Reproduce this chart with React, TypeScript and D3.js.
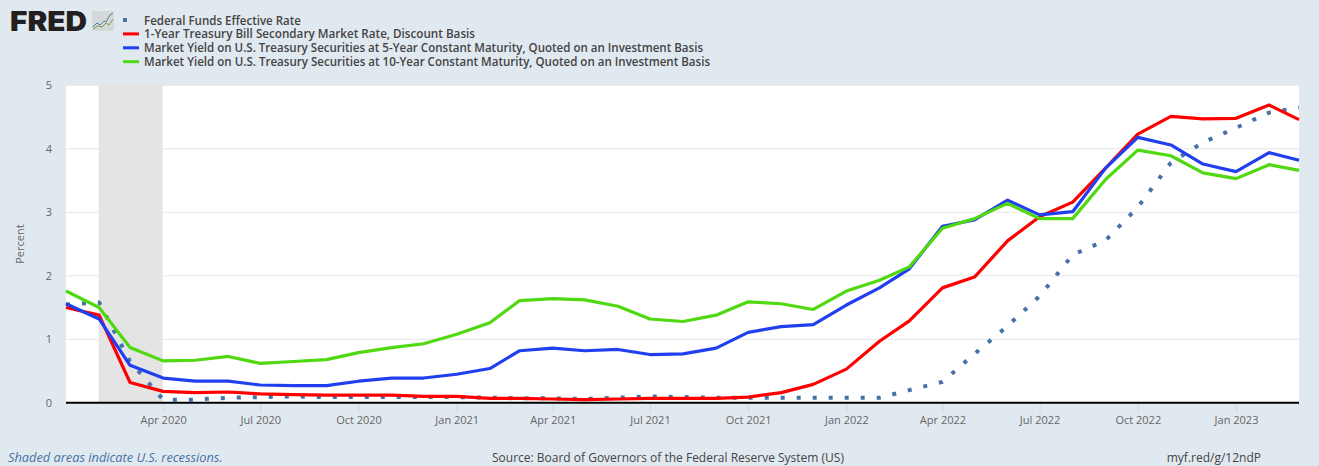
import React, { useEffect, useRef } from "react";
import * as d3 from "d3";

const months: string[] = [
  "2020-01", "2020-02", "2020-03", "2020-04", "2020-05", "2020-06", "2020-07", "2020-08", "2020-09", "2020-10", "2020-11", "2020-12",
  "2021-01", "2021-02", "2021-03", "2021-04", "2021-05", "2021-06", "2021-07", "2021-08", "2021-09", "2021-10", "2021-11", "2021-12",
  "2022-01", "2022-02", "2022-03", "2022-04", "2022-05", "2022-06", "2022-07", "2022-08", "2022-09", "2022-10", "2022-11", "2022-12",
  "2023-01", "2023-02", "2023-03",
];

const fedFunds = [1.55, 1.58, 0.65, 0.05, 0.05, 0.08, 0.09, 0.1, 0.09, 0.09, 0.09, 0.09, 0.09, 0.08, 0.07, 0.07, 0.06, 0.08, 0.1, 0.09, 0.08, 0.08, 0.08, 0.08, 0.08, 0.08, 0.2, 0.33, 0.77, 1.21, 1.68, 2.33, 2.56, 3.08, 3.78, 4.1, 4.33, 4.57, 4.65];
const tbill1y = [1.5, 1.38, 0.32, 0.18, 0.16, 0.17, 0.14, 0.13, 0.12, 0.12, 0.12, 0.1, 0.1, 0.07, 0.07, 0.06, 0.05, 0.06, 0.07, 0.07, 0.07, 0.09, 0.16, 0.29, 0.53, 0.97, 1.29, 1.81, 1.98, 2.55, 2.93, 3.16, 3.7, 4.23, 4.51, 4.47, 4.48, 4.69, 4.46];
const yield5y = [1.56, 1.32, 0.59, 0.39, 0.34, 0.34, 0.28, 0.27, 0.27, 0.34, 0.39, 0.39, 0.45, 0.54, 0.82, 0.86, 0.82, 0.84, 0.76, 0.77, 0.86, 1.11, 1.2, 1.23, 1.54, 1.81, 2.11, 2.78, 2.88, 3.19, 2.96, 3.01, 3.7, 4.18, 4.06, 3.76, 3.64, 3.94, 3.82];
const yield10y = [1.76, 1.5, 0.87, 0.66, 0.67, 0.73, 0.62, 0.65, 0.68, 0.79, 0.87, 0.93, 1.08, 1.26, 1.61, 1.64, 1.62, 1.52, 1.32, 1.28, 1.38, 1.59, 1.56, 1.47, 1.76, 1.93, 2.14, 2.75, 2.9, 3.14, 2.9, 2.9, 3.52, 3.98, 3.89, 3.62, 3.53, 3.75, 3.66];

const legendLabels = [
  "Federal Funds Effective Rate",
  "1-Year Treasury Bill Secondary Market Rate, Discount Basis",
  "Market Yield on U.S. Treasury Securities at 5-Year Constant Maturity, Quoted on an Investment Basis",
  "Market Yield on U.S. Treasury Securities at 10-Year Constant Maturity, Quoted on an Investment Basis",
];
const seriesColors = ["#4572a7", "#ff0000", "#2040f0", "#50d810"];
const yTicks = [0, 1, 2, 3, 4, 5];
const xTicks = ["2020-04", "2020-07", "2020-10", "2021-01", "2021-04", "2021-07", "2021-10", "2022-01", "2022-04", "2022-07", "2022-10", "2023-01"];
const recession = ["2020-02", "2020-04"];

const FONT = "'Open Sans', sans-serif";
const parseMonth = d3.timeParse("%Y-%m");

const App: React.FC = () => {
  const chartRef = useRef<SVGSVGElement | null>(null);

  useEffect(() => {
    if (!chartRef.current) return;
    const width = 1319,
      height = 466;
    const margin = { top: 85, right: 20, bottom: 63.2, left: 66 };
    const svg = d3.select(chartRef.current);
    svg.selectAll("*").remove();

    svg.append("rect").attr("width", width).attr("height", height).attr("fill", "#e1e9f0");

    const dates = months.map((m) => parseMonth(m) as Date);
    const x = d3
      .scaleTime()
      .domain([dates[0], dates[dates.length - 1]])
      .range([margin.left, width - margin.right]);
    const y = d3.scaleLinear().domain([0, 5]).range([height - margin.bottom, margin.top + 0.3]);

    // plot background
    svg
      .append("rect")
      .attr("x", margin.left)
      .attr("y", margin.top)
      .attr("width", width - margin.left - margin.right)
      .attr("height", height - margin.top - margin.bottom)
      .attr("fill", "#ffffff");

    // gridlines
    svg
      .append("g")
      .selectAll("line")
      .data(yTicks.filter((t) => t > 0))
      .join("line")
      .attr("x1", margin.left)
      .attr("x2", width - margin.right)
      .attr("y1", (d) => y(d))
      .attr("y2", (d) => y(d))
      .attr("stroke", "#e6e6e6")
      .attr("stroke-width", 1);

    // recession band
    const recStart = parseMonth(recession[0]) as Date;
    const recEnd = parseMonth(recession[1]) as Date;
    svg
      .append("rect")
      .attr("x", x(recStart) - 0.5)
      .attr("y", margin.top)
      .attr("width", x(recEnd) - x(recStart))
      .attr("height", height - margin.top - margin.bottom)
      .attr("fill", "#e4e4e4");

    // x axis
    const xAxis = d3
      .axisBottom(x)
      .tickValues(xTicks.map((m) => parseMonth(m) as Date))
      .tickFormat((d) => d3.timeFormat("%b %Y")(d as Date))
      .tickSize(10)
      .tickPadding(3);
    const gx = svg
      .append("g")
      .attr("transform", `translate(0,${y(0)})`)
      .call(xAxis);
    gx.select(".domain").remove();
    gx.selectAll(".tick line").attr("stroke", "#ccd6eb");
    gx.selectAll(".tick text")
      .attr("fill", "#666666")
      .attr("font-family", FONT)
      .attr("font-size", 11);

    // y labels
    const yAxis = d3.axisLeft(y).tickValues(yTicks).tickSize(0).tickPadding(14).tickFormat(d3.format("d"));
    const gy = svg.append("g").attr("transform", `translate(${margin.left},0)`).call(yAxis);
    gy.select(".domain").remove();
    gy.selectAll(".tick text")
      .attr("fill", "#666666")
      .attr("font-family", FONT)
      .attr("font-size", 11);

    svg
      .append("text")
      .attr("transform", `translate(24,${y(2.5)}) rotate(-90)`)
      .attr("text-anchor", "middle")
      .attr("fill", "#666666")
      .attr("font-family", FONT)
      .attr("font-size", 11)
      .text("Percent");

    // series
    const line = d3
      .line<number>()
      .x((_, i) => x(dates[i]))
      .y((d) => y(d));
    const plot = [fedFunds, tbill1y, yield5y, yield10y];
    plot.forEach((values, i) => {
      svg
        .append("path")
        .datum(values)
        .attr("fill", "none")
        .attr("stroke", seriesColors[i])
        .attr("stroke-width", i === 0 ? 4 : 3.2)
        .attr("stroke-linejoin", "round")
        .attr("stroke-dasharray", i === 0 ? "4,12" : null)
        .attr("d", line);
    });

    // zero baseline
    svg
      .append("line")
      .attr("x1", margin.left)
      .attr("x2", width - margin.right)
      .attr("y1", y(0))
      .attr("y2", y(0))
      .attr("stroke", "#000000")
      .attr("stroke-width", 2);

    // legend
    const legend = svg.append("g");
    legendLabels.forEach((label, i) => {
      const ly = 20 + i * 13.9;
      if (i === 0) {
        legend
          .append("rect")
          .attr("x", 123)
          .attr("y", ly - 2)
          .attr("width", 4)
          .attr("height", 4)
          .attr("fill", seriesColors[0]);
      } else {
        legend
          .append("line")
          .attr("x1", 123)
          .attr("x2", 139)
          .attr("y1", ly)
          .attr("y2", ly)
          .attr("stroke", seriesColors[i])
          .attr("stroke-width", 3);
      }
      legend
        .append("text")
        .attr("x", 144)
        .attr("y", ly + 4.5)
        .attr("fill", "#444444")
        .attr("font-family", FONT)
        .attr("font-size", 12)
        .attr("font-weight", 600)
        .attr("textLength", [157, 331, 559, 566][i])
        .attr("lengthAdjust", "spacingAndGlyphs")
        .text(label);
    });

    // FRED logo
    svg
      .append("text")
      .attr("x", 10)
      .attr("y", 30.5)
      .attr("fill", "#231f20")
      .attr("font-family", "Inter, 'Open Sans', sans-serif")
      .attr("font-size", 27)
      .attr("font-weight", 900)
      .attr("textLength", 77)
      .attr("lengthAdjust", "spacingAndGlyphs")
      .text("FRED");
    svg
      .append("rect")
      .attr("x", 92)
      .attr("y", 11)
      .attr("width", 22)
      .attr("height", 20)
      .attr("rx", 2)
      .attr("fill", "#d4d8d8");
    svg
      .append("path")
      .attr("d", "M93,27 L97,23 L100,25 L104,21 L106,22 L110,15 L113,13")
      .attr("fill", "none")
      .attr("stroke", "#4d7ea8")
      .attr("stroke-width", 1);
    svg
      .append("path")
      .attr("d", "M93,29 L98,26 L102,27 L106,23 L109,25 L113,19")
      .attr("fill", "none")
      .attr("stroke", "#7d9b4a")
      .attr("stroke-width", 1);

    // footer
    const footer = (tx: number, anchor: string, label: string, color: string, size = 12, italic = false) =>
      svg
        .append("text")
        .attr("x", tx)
        .attr("y", 462)
        .attr("text-anchor", anchor)
        .attr("fill", color)
        .attr("font-family", FONT)
        .attr("font-size", size)
        .attr("font-style", italic ? "italic" : "normal")
        .text(label);
    footer(8, "start", "Shaded areas indicate U.S. recessions.", "#4572a7", 12.8, true);
    footer(668, "middle", "Source: Board of Governors of the Federal Reserve System (US)", "#444444");
    footer(1261, "end", "myf.red/g/12ndP", "#444444");
  }, []);

  return (
    <svg
      ref={chartRef}
      width={1319}
      height={466}
      style={{ position: "absolute", left: 0, top: 0, display: "block" }}
    ></svg>
  );
};

export default App;
